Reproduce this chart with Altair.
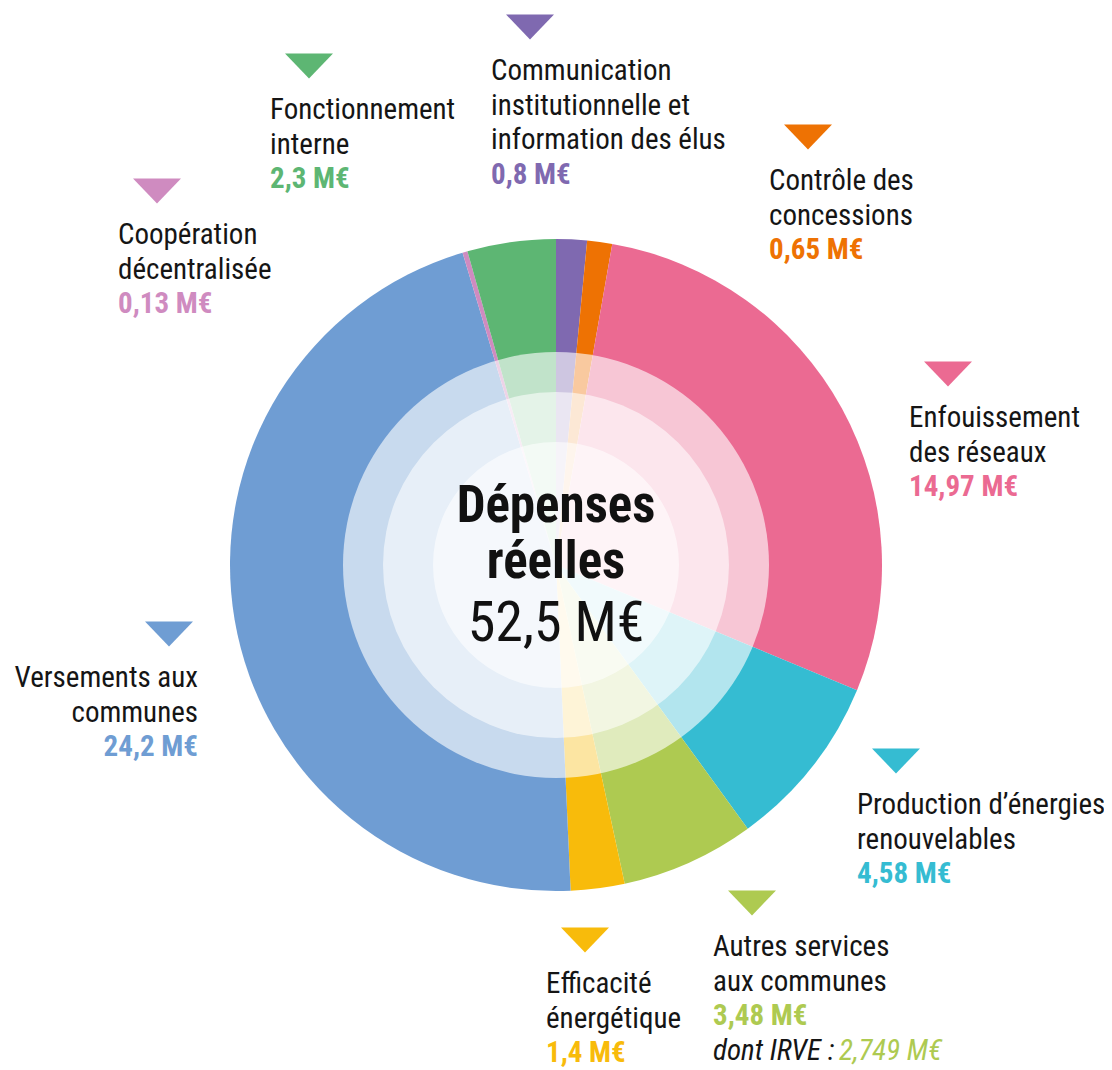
import altair as alt
import pandas as pd

# ---------------- data ----------------
categories = [
    "Communication institutionnelle et information des élus",
    "Contrôle des concessions",
    "Enfouissement des réseaux",
    "Production d’énergies renouvelables",
    "Autres services aux communes",
    "Efficacité énergétique",
    "Versements aux communes",
    "Coopération décentralisée",
    "Fonctionnement interne",
]
label_lines = [
    ["Communication", "institutionnelle et", "information des élus"],
    ["Contrôle des", "concessions"],
    ["Enfouissement", "des réseaux"],
    ["Production d’énergies", "renouvelables"],
    ["Autres services", "aux communes"],
    ["Efficacité", "énergétique"],
    ["Versements aux", "communes"],
    ["Coopération", "décentralisée"],
    ["Fonctionnement", "interne"],
]
values = [0.8, 0.65, 14.97, 4.58, 3.48, 1.4, 24.2, 0.13, 2.3]
colors = ["#7f69b0", "#ee7203", "#eb6a92", "#35bcd2", "#aeca51",
          "#f8bb0b", "#6f9dd3", "#cf8bc0", "#5db673"]
center_bold = ["Dépenses", "réelles"]
center_total = "52,5 M€"
note_prefix = "dont IRVE : "
note_value = "2,749 M€"
note_category = "Autres services aux communes"

# ---------------- layout (page pixels) ----------------
OFF = 8
W, H = 1112 - 2 * OFF, 1062
CX, CY = 556 - OFF, 565 - OFF
R_OUT = 326
overlay_radii = [213, 173, 123]
overlay_alpha = [0.62, 0.57, 0.57]
tri_pos = [(530, 27), (808, 137), (948, 374), (896, 761), (752, 903),
           (585, 940), (169, 634), (157, 191), (309, 66)]
text_align = ["left"] * 6 + ["right"] + ["left"] * 2
LINE = 34.5
FIRST = 53
TXT_DX_LEFT = -39
TXT_DX_RIGHT = 29
NOTE_DX = 126
FONT = "Roboto Condensed, DejaVu Sans Condensed, sans-serif"
FS = 29
CFS_BOLD = 51
CFS_REG = 56
TRI_W = 48

def fmt(v):
    return ("%g" % v).replace(".", ",") + " M€"

# ---------------- tables ----------------
pie = pd.DataFrame({"cat": categories, "value": values, "idx": range(len(values))})

overlay = pd.DataFrame({
    "s": [(2 * r) ** 2 for r in overlay_radii],
    "o": overlay_alpha,
    "k": range(len(overlay_radii)),
})

tri = pd.DataFrame({
    "x": [p[0] - OFF for p in tri_pos],
    "y": [p[1] - OFF for p in tri_pos],
    "c": colors,
})

rows = []
for i, cat in enumerate(categories):
    tx, ty = tri_pos[i]
    al = text_align[i]
    x = tx + (TXT_DX_LEFT if al == "left" else TXT_DX_RIGHT) - OFF
    y = ty + FIRST - OFF
    for ln in label_lines[i]:
        rows.append(dict(x=x, y=y, text=ln, c="#151515", kind="name", al=al))
        y += LINE
    rows.append(dict(x=x, y=y, text=fmt(values[i]), c=colors[i], kind="value", al=al))
    y += LINE
    if cat == note_category:
        rows.append(dict(x=x, y=y, text=note_prefix, c="#151515", kind="note", al=al))
        rows.append(dict(x=x + NOTE_DX, y=y, text=note_value, c=colors[i], kind="note", al=al))
labels = pd.DataFrame(rows)

center = pd.DataFrame({
    "x": [CX] * 3,
    "y": [522 - OFF, 578 - OFF, 641 - OFF],
    "text": center_bold + [center_total],
    "kind": ["bold", "bold", "reg"],
})

xs = alt.Scale(domain=[0, W], range=[0, W], nice=False, zero=False)
ys = alt.Scale(domain=[0, H], range=[0, H], nice=False, zero=False)
X = alt.X("x:Q", scale=xs, axis=None)
Y = alt.Y("y:Q", scale=ys, axis=None)

arcs = alt.Chart(pie).mark_arc(outerRadius=R_OUT, stroke=None).encode(
    theta=alt.Theta("value:Q", stack=True),
    order=alt.Order("idx:Q", sort="ascending"),
    color=alt.Color("cat:N", scale=alt.Scale(domain=categories, range=colors), legend=None),
    x=alt.value(CX),
    y=alt.value(CY),
)

circles = alt.Chart(overlay).mark_circle(color="white", strokeWidth=0).encode(
    x=alt.value(CX),
    y=alt.value(CY),
    size=alt.Size("s:Q", scale=None),
    opacity=alt.Opacity("o:Q", scale=None),
    order=alt.Order("k:Q"),
)

triangles = alt.Chart(tri).mark_point(
    shape="M-1,-0.52L1,-0.52L0,0.52Z", filled=True, size=TRI_W * TRI_W, opacity=1, strokeWidth=0
).encode(x=X, y=Y, color=alt.Color("c:N", scale=None))

def text_layer(kind, al, **kw):
    return alt.Chart(labels).transform_filter(
        (alt.datum.kind == kind) & (alt.datum.al == al)
    ).mark_text(align=al, baseline="alphabetic", font=FONT, fontSize=FS, **kw).encode(
        x=X, y=Y, text="text:N", color=alt.Color("c:N", scale=None)
    )

txt_layers = [
    text_layer("name", "left"),
    text_layer("name", "right"),
    text_layer("value", "left", fontWeight="bold"),
    text_layer("value", "right", fontWeight="bold"),
    text_layer("note", "left", fontStyle="italic"),
]

center_bold_l = alt.Chart(center).transform_filter(alt.datum.kind == "bold").mark_text(
    align="center", baseline="alphabetic", font=FONT, fontSize=CFS_BOLD, fontWeight="bold", color="#111111"
).encode(x=X, y=Y, text="text:N")
center_reg_l = alt.Chart(center).transform_filter(alt.datum.kind == "reg").mark_text(
    align="center", baseline="alphabetic", font=FONT, fontSize=CFS_REG, color="#111111"
).encode(x=X, y=Y, text="text:N")

chart = alt.layer(arcs, circles, triangles, *txt_layers, center_bold_l, center_reg_l).resolve_scale(
    color="independent"
).properties(
    width=W, height=H, autosize=alt.AutoSizeParams(type="none"), padding=0
).configure_view(stroke=None)

chart.save("out.html", embed_options={"renderer": "svg", "actions": False})
